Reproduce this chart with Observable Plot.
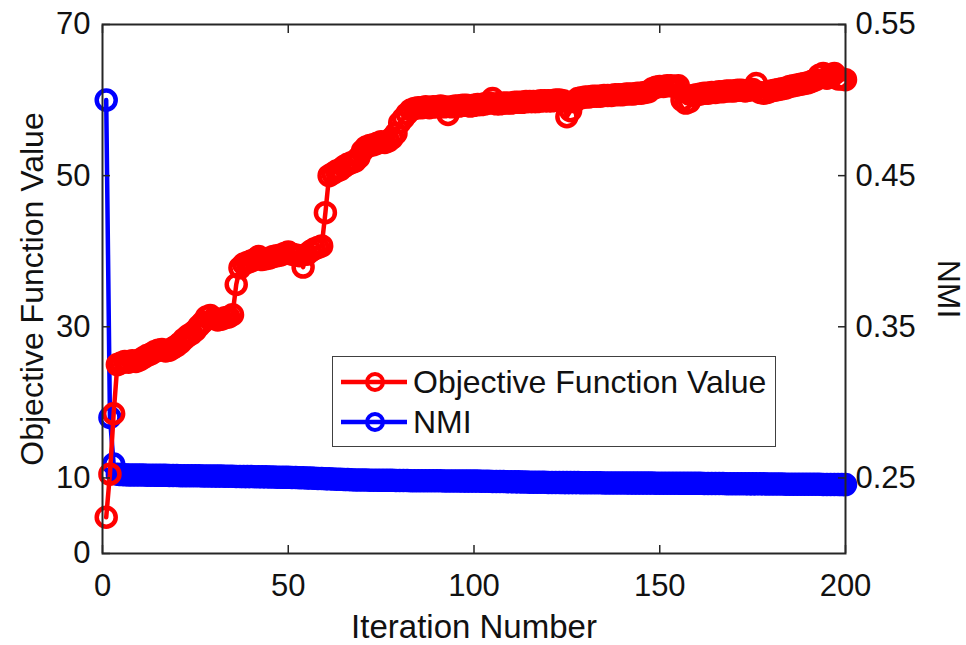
<!DOCTYPE html>
<html><head><meta charset="utf-8">
<script src="https://cdn.jsdelivr.net/npm/d3@7"></script>
<script src="https://cdn.jsdelivr.net/npm/@observablehq/plot@0.6"></script>
<style>
body{margin:0;background:#fff;}
#wrap{position:relative;width:966px;height:645px;font-family:"Liberation Sans",Arial,Helvetica,sans-serif;}
#legend{position:absolute;left:332px;top:356px;width:444px;height:91px;box-sizing:border-box;border:1.5px solid #404040;background:#fff;}
.row{position:absolute;left:0;height:40px;line-height:40px;font-size:32px;color:#111;white-space:nowrap;}
.row svg{position:absolute;left:8px;top:0;}
.row span{position:absolute;left:80px;top:0;}
</style></head><body><div id="wrap"></div>
<script>
const seriesNames = ["Objective Function Value", "NMI"];
const seriesColors = ["#ff0000", "#0000ff"];
const xLabel = "Iteration Number";
const leftLabel = "Objective Function Value";
const rightLabel = "NMI";
const xTicks = [0, 50, 100, 150, 200];
const leftTicks = [0, 10, 30, 50, 70];
const rightTicks = [0.25, 0.35, 0.45, 0.55];
const xDomain = [0, 200];
const leftDomain = [0, 70];
const rightDomain = [0.2, 0.55];

const objective = [
 4.8, 10.5, 18.5, 25.0, 25.2, 25.4, 25.3, 25.5, 25.4, 25.6,
 25.9, 26.2, 26.4, 26.7, 26.9, 27.0, 26.8, 26.9, 27.2, 27.5,
 27.9, 28.4, 28.8, 29.1, 29.5, 30.1, 30.6, 31.3, 31.5, 31.1,
 30.9, 31.0, 31.2, 31.3, 31.6, 35.6, 37.8, 38.3, 38.5, 38.7,
 38.9, 39.3, 38.9, 39.0, 39.1, 39.3, 39.4, 39.5, 39.7, 39.9,
 39.6, 39.5, 39.4, 37.9, 39.6, 40.0, 40.3, 40.5, 40.7, 45.1,
 50.0, 50.3, 50.6, 50.8, 51.2, 51.5, 51.7, 51.9, 52.4, 53.3,
 53.8, 54.0, 54.1, 54.3, 54.5, 54.4, 54.6, 55.0, 55.6, 57.0,
 57.6, 58.2, 58.7, 58.9, 59.0, 59.0, 59.1, 59.0, 59.1, 59.1,
 59.2, 59.1, 58.1, 59.1, 59.2, 59.2, 59.3, 59.3, 59.2, 59.3,
 59.4, 59.4, 59.5, 59.6, 60.2, 59.5, 59.5, 59.6, 59.6, 59.6,
 59.7, 59.7, 59.7, 59.8, 59.8, 59.8, 59.8, 59.9, 59.9, 59.9,
 59.9, 60.0, 60.0, 59.9, 57.8, 58.6, 59.8, 60.2, 60.3, 60.4,
 60.4, 60.5, 60.5, 60.5, 60.6, 60.6, 60.6, 60.7, 60.7, 60.7,
 60.8, 60.8, 60.8, 60.9, 60.9, 61.0, 61.1, 61.5, 61.7, 61.8,
 61.8, 61.9, 61.9, 61.8, 61.9, 60.0, 59.6, 59.8, 60.6, 60.7,
 60.8, 60.9, 60.9, 61.0, 61.0, 61.1, 61.1, 61.2, 61.2, 61.2,
 61.3, 61.3, 61.2, 61.3, 61.4, 62.2, 61.0, 60.9, 61.0, 61.2,
 61.3, 61.4, 61.5, 61.6, 61.8, 61.9, 62.0, 62.1, 62.2, 62.3,
 62.5, 62.7, 63.3, 63.5, 62.9, 63.3, 63.5, 62.8, 62.8, 62.7
];
const nmi = [
 0.5000, 0.2900, 0.2592, 0.2524, 0.2522, 0.2521, 0.2520, 0.2520, 0.2519, 0.2519,
 0.2519, 0.2518, 0.2518, 0.2518, 0.2517, 0.2517, 0.2517, 0.2516, 0.2516, 0.2516,
 0.2515, 0.2515, 0.2515, 0.2514, 0.2514, 0.2514, 0.2513, 0.2513, 0.2513, 0.2512,
 0.2512, 0.2512, 0.2511, 0.2511, 0.2511, 0.2510, 0.2510, 0.2509, 0.2509, 0.2509,
 0.2508, 0.2508, 0.2507, 0.2507, 0.2506, 0.2506, 0.2505, 0.2505, 0.2504, 0.2504,
 0.2503, 0.2503, 0.2502, 0.2501, 0.2500, 0.2499, 0.2498, 0.2497, 0.2496, 0.2495,
 0.2494, 0.2493, 0.2492, 0.2491, 0.2490, 0.2489, 0.2488, 0.2487, 0.2487, 0.2486,
 0.2486, 0.2485, 0.2485, 0.2485, 0.2484, 0.2484, 0.2484, 0.2484, 0.2483, 0.2483,
 0.2483, 0.2483, 0.2482, 0.2482, 0.2482, 0.2482, 0.2481, 0.2481, 0.2481, 0.2481,
 0.2481, 0.2480, 0.2480, 0.2480, 0.2480, 0.2480, 0.2479, 0.2479, 0.2479, 0.2479,
 0.2479, 0.2478, 0.2478, 0.2478, 0.2477, 0.2477, 0.2476, 0.2476, 0.2475, 0.2475,
 0.2474, 0.2474, 0.2473, 0.2473, 0.2472, 0.2472, 0.2471, 0.2471, 0.2471, 0.2470,
 0.2470, 0.2470, 0.2470, 0.2469, 0.2469, 0.2469, 0.2469, 0.2469, 0.2468, 0.2468,
 0.2468, 0.2468, 0.2468, 0.2468, 0.2467, 0.2467, 0.2467, 0.2467, 0.2467, 0.2467,
 0.2467, 0.2466, 0.2466, 0.2466, 0.2466, 0.2466, 0.2466, 0.2466, 0.2465, 0.2465,
 0.2465, 0.2465, 0.2465, 0.2465, 0.2465, 0.2464, 0.2464, 0.2464, 0.2464, 0.2464,
 0.2464, 0.2463, 0.2463, 0.2463, 0.2463, 0.2463, 0.2463, 0.2462, 0.2462, 0.2462,
 0.2462, 0.2462, 0.2462, 0.2461, 0.2461, 0.2461, 0.2461, 0.2461, 0.2460, 0.2460,
 0.2460, 0.2460, 0.2460, 0.2459, 0.2459, 0.2459, 0.2459, 0.2459, 0.2458, 0.2458,
 0.2458, 0.2458, 0.2458, 0.2457, 0.2457, 0.2457, 0.2457, 0.2457, 0.2456, 0.2456
];

// map right-axis (NMI) values onto the left-axis scale
const toLeft = v => leftDomain[0] + (v - rightDomain[0]) / (rightDomain[1] - rightDomain[0]) * (leftDomain[1] - leftDomain[0]);
const fromLeft = v => rightDomain[0] + (v - leftDomain[0]) / (leftDomain[1] - leftDomain[0]) * (rightDomain[1] - rightDomain[0]);

const objData = objective.map((v, i) => ({it: i + 1, v}));
const nmiData = nmi.map((v, i) => ({it: i + 1, v: toLeft(v)}));

const axisColor = "#262626";
const svg = Plot.plot({
  width: 966, height: 645,
  marginLeft: 102, marginRight: 121, marginTop: 24, marginBottom: 92,
  style: {fontFamily: "'Liberation Sans', Arial, Helvetica, sans-serif", fontSize: "31px", color: "#111", background: "#fff"},
  x: {domain: xDomain},
  y: {domain: leftDomain},
  marks: [
    Plot.line(nmiData, {x: "it", y: "v", stroke: seriesColors[1], strokeWidth: 4.5}),
    Plot.dot(nmiData, {x: "it", y: "v", r: 9.5, stroke: seriesColors[1], strokeWidth: 4.5, fill: "none"}),
    Plot.line(objData, {x: "it", y: "v", stroke: seriesColors[0], strokeWidth: 4.5}),
    Plot.dot(objData, {x: "it", y: "v", r: 9.5, stroke: seriesColors[0], strokeWidth: 4.5, fill: "none"}),
    Plot.frame({stroke: axisColor, strokeWidth: 2}),
    Plot.axisX({ticks: xTicks, tickSize: -8, tickPadding: 28, label: null, stroke: axisColor, strokeWidth: 1.5, fontSize: 31}),
    Plot.axisX({anchor: "top", ticks: xTicks, tickSize: -8, tickFormat: () => "", label: null, stroke: axisColor, strokeWidth: 1.5}),
    Plot.axisY({ticks: leftTicks, tickSize: -8, tickPadding: 20, label: null, stroke: axisColor, strokeWidth: 1.5, fontSize: 31}),
    Plot.axisY({anchor: "right", ticks: rightTicks.map(toLeft), tickSize: -8, tickPadding: 18, label: null,
      tickFormat: d => fromLeft(d).toFixed(2), stroke: axisColor, strokeWidth: 1.5, fontSize: 31}),
    Plot.text([xLabel], {text: d => d, frameAnchor: "bottom", dy: 74, textAnchor: "middle", lineAnchor: "middle", fontSize: 33}),
    Plot.text([leftLabel], {text: d => d, frameAnchor: "left", dx: -70, rotate: -90, textAnchor: "middle", lineAnchor: "middle", fontSize: 32}),
    Plot.text([rightLabel], {text: d => d, frameAnchor: "right", dx: 103, rotate: 90, textAnchor: "middle", lineAnchor: "middle", fontSize: 32})
  ]
});
const wrap = document.getElementById("wrap");
wrap.appendChild(svg);

const legend = document.createElement("div");
legend.id = "legend";
seriesNames.forEach((name, k) => {
  const row = document.createElement("div");
  row.className = "row";
  row.style.top = (5 + k * 40) + "px";
  row.innerHTML = `<svg width="66" height="40"><line x1="0" y1="20" x2="66" y2="20" stroke="${seriesColors[k]}" stroke-width="4.5"/><circle cx="34" cy="20" r="8" fill="none" stroke="${seriesColors[k]}" stroke-width="4"/></svg><span>${name}</span>`;
  legend.appendChild(row);
});
wrap.appendChild(legend);
</script></body></html>
